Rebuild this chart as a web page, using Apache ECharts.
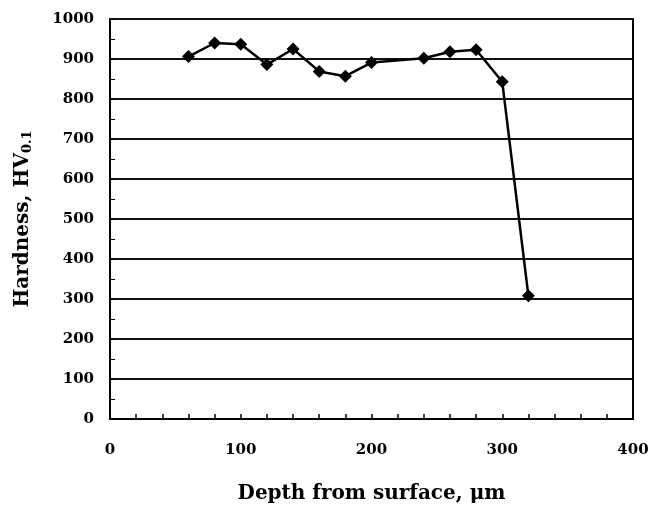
<!DOCTYPE html>
<html>
<head>
<meta charset="utf-8">
<script src="https://cdn.jsdelivr.net/npm/echarts@6/dist/echarts.min.js"></script>
<style>
  html, body { margin: 0; padding: 0; background: #fff; }
  #chart { width: 667px; height: 510px; }
</style>
</head>
<body>
<div id="chart"></div>
<script>
// depth (um) and hardness (HV0.1)
var depth = [60, 80, 100, 120, 140, 160, 180, 200, 240, 260, 280, 300, 320];
var hardness = [906, 940, 937, 886, 925, 869, 857, 891, 902, 918, 923, 843, 308];

var points = [];
for (var i = 0; i < depth.length; i++) {
  points.push([depth[i], hardness[i]]);
}

var serif = '"DejaVu Serif", "Liberation Serif", serif';

var chart = echarts.init(document.getElementById('chart'));
var option = {
  animation: false,
  backgroundColor: '#fff',
  grid: {
    left: 110,
    right: 34,
    top: 19,
    bottom: 91,
    show: true,
    borderColor: '#000',
    borderWidth: 2
  },
  xAxis: {
    type: 'value',
    min: 0,
    max: 400,
    interval: 100,
    name: 'Depth from surface, μm',
    nameLocation: 'middle',
    nameGap: 65,
    nameTextStyle: { fontFamily: serif, fontWeight: 'bold', fontSize: 20, color: '#000' },
    axisLine: { lineStyle: { color: '#000', width: 2 } },
    axisTick: { inside: true, length: 5, lineStyle: { color: '#000', width: 1.5 } },
    minorTick: { show: true, splitNumber: 5, length: 5, lineStyle: { color: '#000', width: 1.5 } },
    axisLabel: { margin: 24, fontFamily: serif, fontWeight: 'bold', fontSize: 15, color: '#000' },
    splitLine: { show: false }
  },
  yAxis: {
    type: 'value',
    min: 0,
    max: 1000,
    interval: 100,
    name: '{a|Hardness, HV}{b|0.1}',
    nameLocation: 'middle',
    nameGap: 76,
    nameRotate: 90,
    nameTextStyle: {
      rich: {
        a: { fontFamily: serif, fontWeight: 'bold', fontSize: 20, color: '#000' },
        b: { fontFamily: serif, fontWeight: 'bold', fontSize: 13, color: '#000', verticalAlign: 'bottom', padding: [9, 0, 0, 0] }
      }
    },
    axisLine: { show: true, lineStyle: { color: '#000', width: 1.5 } },
    axisTick: { inside: true, length: 5, lineStyle: { color: '#000', width: 1 } },
    minorTick: { show: true, splitNumber: 2, length: 5, lineStyle: { color: '#000', width: 1 } },
    axisLabel: {
      margin: 16,
      fontFamily: serif,
      fontWeight: 'bold',
      fontSize: 15,
      color: '#000',
      formatter: function (v) { return String(v); }
    },
    splitLine: { show: true, lineStyle: { color: '#111', width: 1.8 } }
  },
  series: [
    {
      type: 'line',
      data: points,
      symbol: 'diamond',
      symbolSize: 13,
      lineStyle: { color: '#000', width: 2.5 },
      itemStyle: { color: '#000' }
    }
  ]
};
chart.setOption(option);
</script>
</body>
</html>
